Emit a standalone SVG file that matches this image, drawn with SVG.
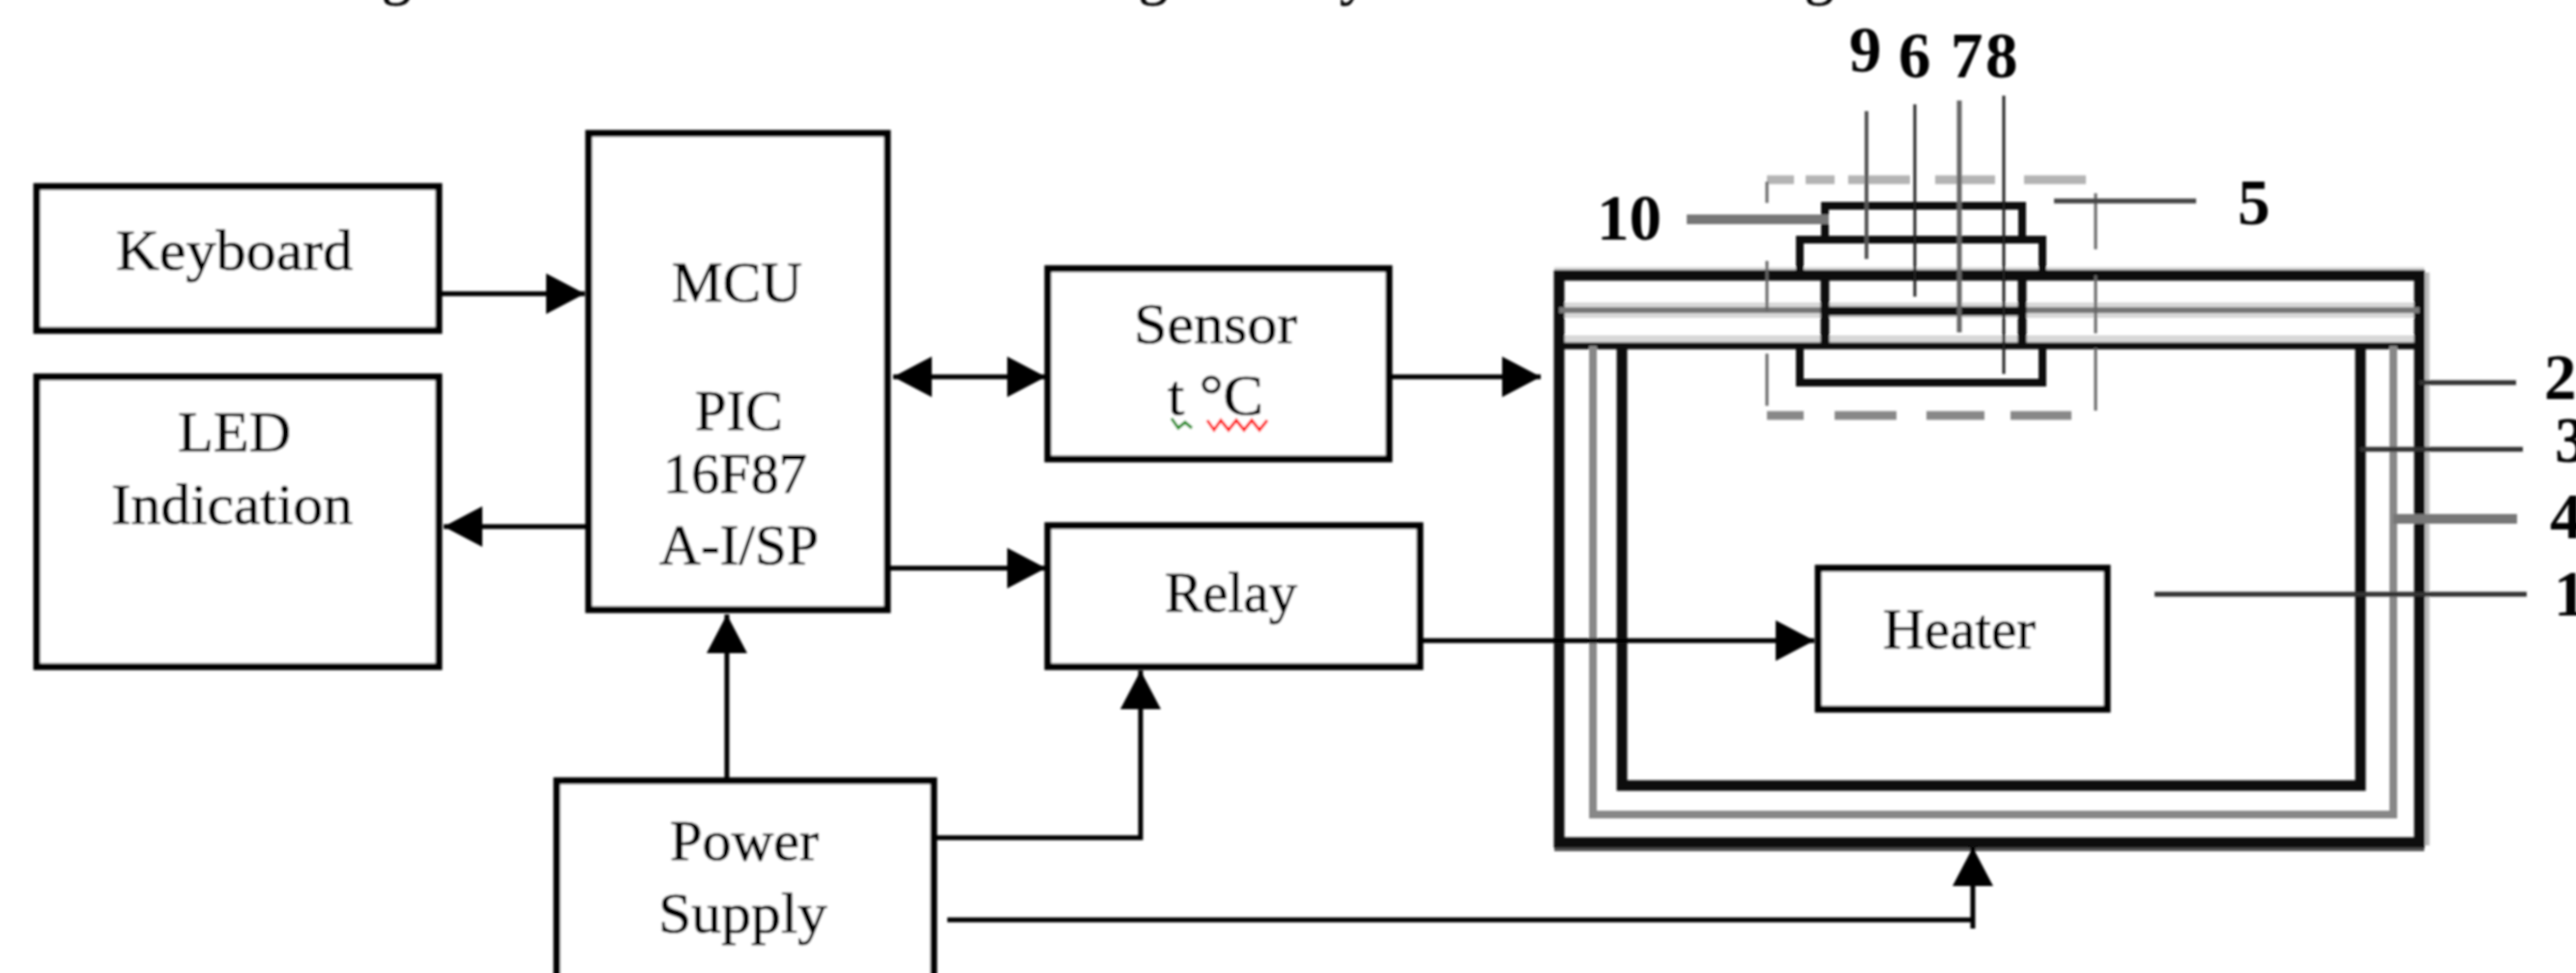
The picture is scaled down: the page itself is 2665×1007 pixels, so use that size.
<svg xmlns="http://www.w3.org/2000/svg" width="2665" height="1007" viewBox="0 0 2665 1007">
<style>
text{font-family:"Liberation Serif","Times New Roman",serif;font-size:60px;fill:#000;stroke:#000;stroke-width:.7}
.tf{font-size:60px}
.b{fill:#fff;stroke:#000;stroke-width:7}
.c{fill:none;stroke:#000;stroke-width:5}
.n{font-weight:700;font-size:67px;stroke-width:0}
.t{fill:none;stroke:#111;stroke-width:11}
.m{fill:none;stroke:#111;stroke-width:8}
.g{fill:none;stroke:#777;stroke-width:6}
.h{fill:none;stroke:#d8d8d8;stroke-width:16}
.d{fill:none;stroke:#888;stroke-width:9}
.dl{fill:none;stroke:#666;stroke-width:3}
.l{fill:none;stroke:#333;stroke-width:5}
</style>
<defs>
<filter id="soft" x="-2%" y="-2%" width="104%" height="104%"><feGaussianBlur stdDeviation="0.8"/></filter>
<marker id="ah" markerUnits="userSpaceOnUse" markerWidth="40" markerHeight="44" refX="40" refY="22" orient="auto-start-reverse"><path d="M0 1L40 22L0 43z" fill="#000"/></marker>
</defs>
<rect width="2665" height="1007" fill="#fff"/>
<g filter="url(#soft)">
<g id="title-fragment">
<text class="tf" x="395" y="-7">g</text>
<text class="tf" x="1178" y="-7">g</text>
<text class="tf" x="1386" y="-7">y</text>
<text class="tf" x="1867" y="-7">g</text>
</g>
<g id="keyboard"><rect class="b" x="38" y="193" width="416" height="149"/><text x="120" y="279" textLength="245" lengthAdjust="spacingAndGlyphs">Keyboard</text></g>
<g id="led"><rect class="b" x="38" y="390" width="416" height="300"/><text x="184" y="467" textLength="117" lengthAdjust="spacingAndGlyphs">LED</text><text x="115" y="542" textLength="250" lengthAdjust="spacingAndGlyphs">Indication</text></g>
<g id="mcu"><rect class="b" x="609" y="138" width="309" height="493"/><text x="695" y="312" textLength="135" lengthAdjust="spacingAndGlyphs">MCU</text><text x="719" y="445" textLength="91" lengthAdjust="spacingAndGlyphs">PIC</text><text x="686" y="510" textLength="149" lengthAdjust="spacingAndGlyphs">16F87</text><text x="682" y="584" textLength="165" lengthAdjust="spacingAndGlyphs">A-I/SP</text></g>
<g id="sensor"><rect class="b" x="1084" y="278" width="353" height="197"/><text x="1173" y="355" textLength="169" lengthAdjust="spacingAndGlyphs">Sensor</text><text x="1208" y="429" textLength="99" lengthAdjust="spacingAndGlyphs">t °C</text>
<polyline points="1212,433 1219,443 1226,437 1233,443" fill="none" stroke="#0a8a0a" stroke-width="3"/>
<polyline points="1249,435 1256,445 1263,435 1271,445 1279,435 1287,445 1295,435 1303,445 1311,435" fill="none" stroke="#f00" stroke-width="3"/></g>
<g id="relay"><rect class="b" x="1084" y="544" width="385" height="146"/><text x="1205" y="633" textLength="137" lengthAdjust="spacingAndGlyphs">Relay</text></g>
<g id="power"><rect class="b" x="576" y="808" width="390" height="240"/><text x="693" y="890" textLength="154" lengthAdjust="spacingAndGlyphs">Power</text><text x="681" y="965" textLength="175" lengthAdjust="spacingAndGlyphs">Supply</text></g>
<g id="chamber">
<path fill="none" stroke="#d8d8d8" stroke-width="5" d="M1608 279H2508"/>
<path class="h" d="M1613 321H2503"/>
<path class="h" style="stroke-width:10" d="M1613 352H2503"/>
<path fill="none" stroke="#bbb" stroke-width="5" d="M2511 282V875"/>
<path fill="none" stroke="#555" stroke-width="6" d="M1608 878H2508"/>
<path class="t" d="M1613 285H2503V872H1613Z"/>
<path class="g" d="M1613 321H2503"/>
<path class="m" style="stroke-width:7" d="M1613 358H2503"/>
<path fill="none" stroke="#888" stroke-width="8" d="M1648 358V843H2476V358"/>
<path class="t" d="M1678 358V813H2442V358"/>
</g>
<g id="sensor-assembly">
<path class="m" d="M1888 247V213H2092V247"/>
<path class="m" d="M1862 286V248H2113V286"/>
<path class="m" d="M1888 286V358M2092 286V358M1888 322H2092" style="stroke-width:9"/>
<path class="m" d="M1862 358V396H2113V358"/>
<path class="d" style="stroke:#b4b4b4" d="M1828 186H1856M1868 186H1898M1912 186H1976M2002 186H2064M2094 186H2158"/>
<path class="d" d="M1828 430H1866M1898 430H1962M1993 430H2053M2080 430H2143"/>
<path class="dl" d="M1828 188V210M1828 270V322M1828 366V420M2168 200V258M2168 285V345M2168 360V425"/>
</g>
<g id="heater"><rect class="b" x="1881" y="588" width="299" height="146"/><text x="1948" y="671" textLength="158" lengthAdjust="spacingAndGlyphs">Heater</text></g>
<g id="connectors">
<path class="c" d="M454 304H605" marker-end="url(#ah)"/>
<path class="c" d="M609 545H459" marker-end="url(#ah)"/>
<path class="c" d="M924 390H1082" marker-start="url(#ah)" marker-end="url(#ah)"/>
<path class="c" d="M1437 390H1594" marker-end="url(#ah)"/>
<path class="c" d="M918 588H1082" marker-end="url(#ah)"/>
<path class="c" d="M1469 663H1877" marker-end="url(#ah)"/>
<path class="c" d="M752 808V636" marker-end="url(#ah)"/>
<path class="c" d="M966 867H1180V694" marker-end="url(#ah)"/>
<path class="c" d="M980 952H2041"/>
<path class="c" d="M2041 961V877" marker-end="url(#ah)"/>
</g>
<g id="leaders">
<path fill="none" stroke="#555" stroke-width="4" d="M1931 115V268"/>
<path fill="none" stroke="#222" stroke-width="3" d="M1981 108V307"/>
<path fill="none" stroke="#666" stroke-width="5" d="M2027 104V344"/>
<path fill="none" stroke="#222" stroke-width="3" d="M2073 99V387"/>
<path fill="none" stroke="#777" stroke-width="10" d="M1745 227H1892"/>
<path class="l" style="stroke:#444" d="M2125 208H2272"/>
<path class="l" d="M2503 396H2603"/>
<path class="l" d="M2442 465H2610"/>
<path fill="none" stroke="#777" stroke-width="10" d="M2476 537H2604"/>
<path class="l" d="M2229 615H2614"/>
</g>
<g id="labels">
<text class="n" x="1913" y="74">9</text><text class="n" x="1964" y="80">6</text><text class="n" x="2018" y="80">7</text><text class="n" x="2054" y="80">8</text>
<text class="n" x="1652" y="248">10</text><text class="n" x="2315" y="232">5</text>
<text class="n" x="2632" y="413">2</text><text class="n" x="2643" y="478">3</text><text class="n" x="2638" y="557">4</text><text class="n" x="2642" y="637">1</text>
</g>
</g>
</svg>
